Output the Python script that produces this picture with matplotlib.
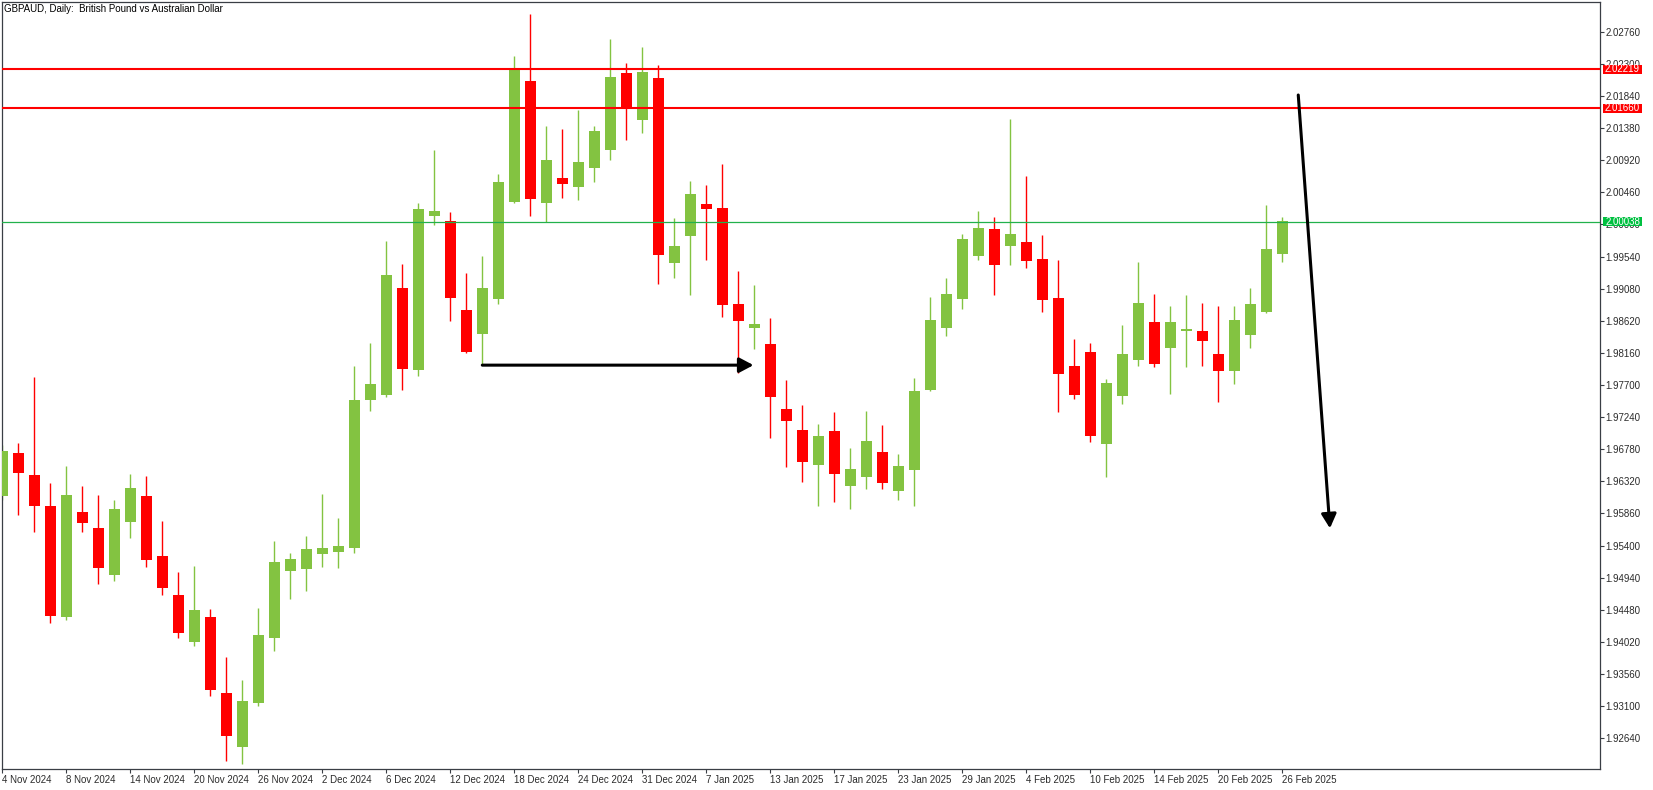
import matplotlib
matplotlib.use("Agg")
import matplotlib.pyplot as plt
import numpy as np
from matplotlib import transforms
from matplotlib.patches import Rectangle
from matplotlib.text import Text

plt.rcParams['font.family'] = ['Liberation Sans', 'DejaVu Sans']

# ---------------- data (GBPAUD daily, 4 Nov 2024 .. 26 Feb 2025) ----------------
title = "GBPAUD, Daily:  British Pound vs Australian Dollar"

tick_labels = ["4 Nov 2024", "8 Nov 2024", "14 Nov 2024", "20 Nov 2024", "26 Nov 2024",
               "2 Dec 2024", "6 Dec 2024", "12 Dec 2024", "18 Dec 2024", "24 Dec 2024",
               "31 Dec 2024", "7 Jan 2025", "13 Jan 2025", "17 Jan 2025", "23 Jan 2025",
               "29 Jan 2025", "4 Feb 2025", "10 Feb 2025", "14 Feb 2025", "20 Feb 2025",
               "26 Feb 2025"]
bars_per_tick = 4

opens = [
    1.96114, 1.96726, 1.96411, 1.95967, 1.94377, 1.95881, 1.95652, 1.94978, 1.95737, 1.96110,
    1.95250, 1.94692, 1.94019, 1.94377, 1.93288, 1.92519, 1.93145, 1.94076, 1.95036, 1.95064,
    1.95279, 1.95308, 1.95365, 1.97485, 1.97556, 1.99089, 1.97919, 2.00125, 2.00049, 1.98774,
    1.98434, 1.98936, 2.00325, 2.02054, 2.00311, 2.00665, 2.00540, 2.00812, 2.01070, 2.02168,
    2.01500, 2.02097, 1.99451, 1.99838, 2.00292, 2.00235, 1.98860, 1.98520, 1.98287, 1.97356,
    1.97055, 1.96558, 1.97041, 1.96257, 1.96386, 1.96740, 1.96186, 1.96487, 1.97632, 1.98520,
    1.98936, 1.99552, 1.99934, 1.99695, 1.99748, 1.99504, 1.98946, 1.97972, 1.98172, 1.96859,
    1.97546, 1.98062, 1.98602, 1.98234, 1.98477, 1.98473, 1.98144, 1.97905, 1.98420, 1.98750,
    1.99580]

highs = [
    1.96840, 1.96869, 1.97814, 1.96296, 1.96540, 1.96253, 1.96124, 1.96053, 1.96425, 1.96396,
    1.95752, 1.95021, 1.95107, 1.94491, 1.93804, 1.93474, 1.94506, 1.95465, 1.95293, 1.95537,
    1.96138, 1.95795, 1.97972, 1.98301, 1.99762, 1.99433, 2.00306, 2.01066, 2.00178, 1.99304,
    1.99547, 2.00722, 2.02412, 2.03013, 2.01409, 2.01366, 2.01639, 2.01409, 2.02655, 2.02312,
    2.02541, 2.02283, 2.00092, 2.00622, 2.00564, 2.00865, 1.99333, 1.99132, 1.98659, 1.97771,
    1.97413, 1.97141, 1.97313, 1.96797, 1.97327, 1.97127, 1.96711, 1.97800, 1.98960, 1.99232,
    1.99862, 2.00192, 2.00106, 2.01510, 2.00693, 1.99848, 1.99490, 1.98363, 1.98301, 1.97786,
    1.98559, 1.99461, 1.99003, 1.98831, 1.98989, 1.98874, 1.98831, 1.98831, 1.99089, 2.00278,
    2.00106]

lows = [
    1.96053, 1.95838, 1.95594, 1.94295, 1.94338, 1.95594, 1.94854, 1.94892, 1.95513, 1.95097,
    1.94692, 1.94076, 1.93961, 1.93250, 1.92319, 1.92276, 1.93106, 1.93894, 1.94635, 1.94749,
    1.95097, 1.95079, 1.95298, 1.97332, 1.97532, 1.97632, 1.97833, 1.99996, 1.98621, 1.98162,
    1.97986, 1.98864, 2.00300, 2.00125, 2.00039, 2.00382, 2.00354, 2.00612, 2.00927, 2.01213,
    2.01313, 1.99151, 1.99237, 1.98993, 1.99494, 1.98678, 1.97876, 1.98220, 1.96945, 1.96530,
    1.96315, 1.95971, 1.96028, 1.95928, 1.96214, 1.96214, 1.96057, 1.95971, 1.97620, 1.98406,
    1.98793, 1.99494, 1.98993, 1.99423, 1.99380, 1.98750, 1.97317, 1.97503, 1.96888, 1.96386,
    1.97432, 1.97976, 1.97962, 1.97575, 1.97962, 1.97976, 1.97461, 1.97718, 1.98234, 1.98735,
    1.99466]

closes = [
    1.96754, 1.96444, 1.95967, 1.94391, 1.96124, 1.95723, 1.95083, 1.95924, 1.96224, 1.95193,
    1.94792, 1.94152, 1.94477, 1.93335, 1.92677, 1.93174, 1.94119, 1.95165, 1.95207, 1.95351,
    1.95365, 1.95394, 1.97485, 1.97714, 1.99275, 1.97933, 2.00221, 2.00192, 1.98950, 1.98177,
    1.99089, 2.00607, 2.02221, 2.00368, 2.00922, 2.00583, 2.00894, 2.01338, 2.02111, 2.01681,
    2.02183, 1.99566, 1.99691, 2.00435, 2.00225, 1.98850, 1.98621, 1.98573, 1.97532, 1.97188,
    1.96601, 1.96969, 1.96429, 1.96497, 1.96898, 1.96300, 1.96540, 1.97614, 1.98631, 1.99003,
    1.99791, 1.99948, 1.99423, 1.99862, 1.99480, 1.98921, 1.97862, 1.97561, 1.96974, 1.97728,
    1.98144, 1.98874, 1.98005, 1.98602, 1.98502, 1.98334, 1.97905, 1.98631, 1.98860, 1.99648,
    2.00044]

y_tick_values = [1.92640, 1.93100, 1.93560, 1.94020, 1.94480, 1.94940, 1.95400, 1.95860,
                 1.96320, 1.96780, 1.97240, 1.97700, 1.98160, 1.98620, 1.99080, 1.99540,
                 2.00000, 2.00460, 2.00920, 2.01380, 2.01840, 2.02300, 2.02760]

resistance_levels = [2.02219, 2.01660]
support_levels = [2.00038]

# annotation arrows (bar index, price)
h_arrow_start = (30.0, 1.97984)
h_arrow_end = (46.95, 1.97984)
d_arrow_start = (81.0, 2.01853)
d_arrow_end = (82.98, 1.95647)

# ---------------- styling ----------------
GREEN = "#83c341"
RED = "#ff0000"
LINE_GREEN = "#22b14c"
BOX_GREEN = "#00c040"
FRAME = "#3a3e45"
TXT = "#2b2b2b"

W, H = 1653, 790
fig = plt.figure(figsize=(W / 100, H / 100), dpi=100, facecolor="white")
ax = fig.add_axes([2 / W, 21 / H, 1598 / W, 767 / H])
ax.set_facecolor("white")
ax.set_xlim(-0.02, 99.86)
ax.set_ylim(1.92200, 2.03185)

o = np.array(opens); h = np.array(highs); l = np.array(lows); c = np.array(closes)
x = np.arange(len(o))
cols = np.where(c >= o, GREEN, RED)

ax.vlines(x, l, h, colors=cols, lw=1.0, zorder=2)
body_bottom = np.minimum(o, c)
body_h = np.maximum(np.abs(c - o), 0.00022)
ax.bar(x, body_h, width=0.67, bottom=body_bottom, color=cols, lw=0, zorder=3)

for lv in resistance_levels:
    ax.axhline(lv, color=RED, lw=1.5, zorder=4)
for lv in support_levels:
    ax.axhline(lv, color=LINE_GREEN, lw=0.9, zorder=4)

# arrows
arrow_kw = dict(arrowstyle="-|>,head_length=0.85,head_width=0.45", color="black",
                lw=2.2, shrinkA=0, shrinkB=0, mutation_scale=10)
ax.annotate("", xy=h_arrow_end, xytext=h_arrow_start, arrowprops=arrow_kw, zorder=6)
ax.annotate("", xy=d_arrow_end, xytext=d_arrow_start, arrowprops=arrow_kw, zorder=6)

# ticks
ax.set_xticks(np.arange(0, len(o), bars_per_tick)[:len(tick_labels)])
ax.set_xticklabels(tick_labels, ha="left")
ax.yaxis.tick_right()
ax.set_yticks(y_tick_values)
ax.set_yticklabels([f"{v:.5f}" for v in y_tick_values])
ax.tick_params(axis="x", direction="out", length=3, width=0.8, pad=1.5,
               labelsize=7, colors=FRAME, labelcolor=TXT)
ax.tick_params(axis="y", direction="out", length=3, width=0.8, pad=0.8,
               labelsize=7, colors=FRAME, labelcolor=TXT)
for sp in ax.spines.values():
    sp.set_color(FRAME)
    sp.set_linewidth(0.9)

# price label boxes on the right axis (figure-level so they sit above tick labels)
blend = transforms.blended_transform_factory(ax.transAxes, ax.transData)
box_x0 = 1601 / 1598
box_w = 39 / 1598
box_h = 9.5 / 6982
for lv, fc in [(v, RED) for v in resistance_levels] + [(v, BOX_GREEN) for v in support_levels]:
    rect = Rectangle((box_x0, lv - box_h / 2), box_w, box_h, transform=blend,
                     facecolor=fc, edgecolor="none", clip_on=False, zorder=10)
    fig.add_artist(rect)
    t = Text(box_x0 + box_w / 2, lv, f"{lv:.5f}", transform=blend, ha="center",
             va="center", fontsize=7, color="white", zorder=11)
    fig.add_artist(t)

fig.text(4 / W, 1 - 9 / H, title, fontsize=7, ha="left", va="center", color="black")

fig.savefig("out.png", dpi=100, facecolor="white")
